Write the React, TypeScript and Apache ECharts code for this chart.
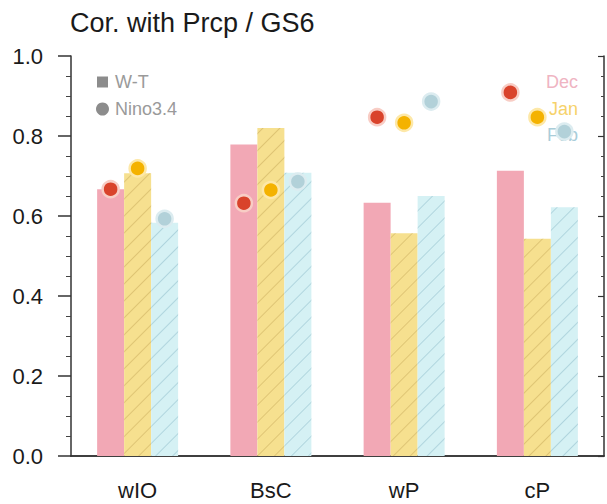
import React, { useEffect, useRef } from "react";
import * as echarts from "echarts";

const categories = ["wIO", "BsC", "wP", "cP"];
const months = ["Dec", "Jan", "Feb"];
const wtDec = [0.667, 0.779, 0.633, 0.713];
const wtJan = [0.707, 0.82, 0.557, 0.543];
const wtFeb = [0.583, 0.708, 0.65, 0.622];
const ninoDec = [0.667, 0.632, 0.847, 0.909];
const ninoJan = [0.719, 0.665, 0.833, 0.847];
const ninoFeb = [0.593, 0.686, 0.886, 0.811];
const yTicks = [0, 0.2, 0.4, 0.6, 0.8, 1.0];
const titleText = "Cor. with Prcp / GS6";
const typeLegend = ["W-T", "Nino3.4"];

const FONT = "'Liberation Sans', Arial, Helvetica, sans-serif";
const BAR_W = 27;
const barColors = ["#f2a8b5", "#f6e08f", "#d5f1f4"];
const hatchColors = [null, "rgba(200,170,90,0.5)", "rgba(130,180,195,0.45)"];
const dotColors = ["#d9432b", "#f4b200", "#b2d1d9"];
const haloColors = ["#f8cdc5", "#fde8a8", "#dcecf0"];
const monthTextColors = ["#efb4c2", "#f6d26a", "#a9cdd9"];

export default function App() {
  const ref = useRef<HTMLDivElement>(null);
  useEffect(() => {
    if (!ref.current) return;
    const chart = echarts.init(ref.current, null, { renderer: "svg" });
    const wt = [wtDec, wtJan, wtFeb];
    const nino = [ninoDec, ninoJan, ninoFeb];
    const offsets = [-BAR_W, 0, BAR_W];

    const barSeries = months.map((m, i) => ({
      name: m + " W-T",
      type: "bar",
      data: wt[i],
      barWidth: BAR_W,
      barGap: "0%",
      z: 2,
      itemStyle: {
        color: barColors[i],
        decal: hatchColors[i]
          ? {
              symbol: "rect",
              symbolSize: 1,
              color: hatchColors[i],
              backgroundColor: null,
              dashArrayX: [1, 0],
              dashArrayY: [1, 11],
              rotation: -Math.PI / 4,
            }
          : undefined,
      },
    }));

    const dotSeries = months.map((m, i) => ({
      name: m + " Nino3.4",
      type: "scatter",
      data: nino[i],
      symbol: "circle",
      symbolSize: 16,
      symbolOffset: [offsets[i], 0],
      z: 5,
      itemStyle: {
        color: dotColors[i],
        borderColor: haloColors[i],
        borderWidth: 2.5,
        opacity: 1,
      },
    }));

    const graphics: any[] = [
      {
        type: "text",
        x: 70,
        y: 23,
        style: { text: titleText, fontSize: 27, fontFamily: FONT, fill: "#1a1a1a", verticalAlign: "middle" },
      },
      {
        type: "rect",
        shape: { x: 97, y: 76.5, width: 11, height: 11 },
        style: { fill: "#8c8c8c" },
      },
      {
        type: "text",
        x: 115,
        y: 82,
        style: { text: typeLegend[0], fontSize: 18, fontFamily: FONT, fill: "#9a9a9a", verticalAlign: "middle" },
      },
      {
        type: "circle",
        shape: { cx: 102.5, cy: 109, r: 6.5 },
        style: { fill: "#8c8c8c" },
      },
      {
        type: "text",
        x: 115,
        y: 109,
        style: { text: typeLegend[1], fontSize: 18, fontFamily: FONT, fill: "#9a9a9a", verticalAlign: "middle" },
      },
    ];
    months.forEach((m, i) => {
      graphics.push({
        type: "text",
        x: 578,
        y: 82 + i * 26.5,
        z: i === 2 ? 0 : 10,
        style: {
          text: m,
          fontSize: 18,
          fontFamily: FONT,
          fill: monthTextColors[i],
          align: "right",
          verticalAlign: "middle",
        },
      });
    });

    chart.setOption({
      animation: false,
      backgroundColor: "#ffffff",
      grid: { left: 71, right: 3, top: 56, bottom: 48, containLabel: false },
      xAxis: [
        {
          type: "category",
          data: categories,
          position: "bottom",
          axisLine: { lineStyle: { color: "#333", width: 1.5 } },
          axisTick: { alignWithLabel: true, length: 10, lineStyle: { color: "#333", width: 1.5 } },
          axisLabel: { fontSize: 22, fontFamily: FONT, color: "#1a1a1a", margin: 23 },
        },
        {
          type: "category",
          data: categories,
          position: "top",
          axisLine: { lineStyle: { color: "#333", width: 1.5 } },
          axisTick: { alignWithLabel: true, length: 10, lineStyle: { color: "#333", width: 1.5 } },
          axisLabel: { show: false },
        },
      ],
      yAxis: [
        {
          type: "value",
          min: yTicks[0],
          max: yTicks[yTicks.length - 1],
          interval: yTicks[1] - yTicks[0],
          position: "left",
          axisLine: { show: true, lineStyle: { color: "#333", width: 1.5 } },
          axisTick: { show: true, length: 13, lineStyle: { color: "#333", width: 1.5 } },
          minorTick: { show: true, splitNumber: 4, length: 5, lineStyle: { color: "#444", width: 1 } },
          splitLine: { show: false },
          axisLabel: {
            fontSize: 22,
            fontFamily: FONT,
            color: "#1a1a1a",
            margin: 28,
            formatter: (v: number) => v.toFixed(1),
          },
        },
        {
          type: "value",
          min: yTicks[0],
          max: yTicks[yTicks.length - 1],
          interval: yTicks[1] - yTicks[0],
          position: "right",
          axisLine: { show: true, lineStyle: { color: "#333", width: 1.5 } },
          axisTick: { show: true, inside: true, length: 6, lineStyle: { color: "#333", width: 1.2 } },
          minorTick: { show: true, splitNumber: 4, length: 3, lineStyle: { color: "#444", width: 1 } },
          splitLine: { show: false },
          axisLabel: { show: false },
        },
      ],
      series: [...barSeries, ...dotSeries],
      graphic: graphics,
    });
    return () => chart.dispose();
  }, []);
  return (
    <div
      ref={ref}
      style={{ position: "absolute", left: 0, top: 0, width: 607, height: 504 }}
    />
  );
}
